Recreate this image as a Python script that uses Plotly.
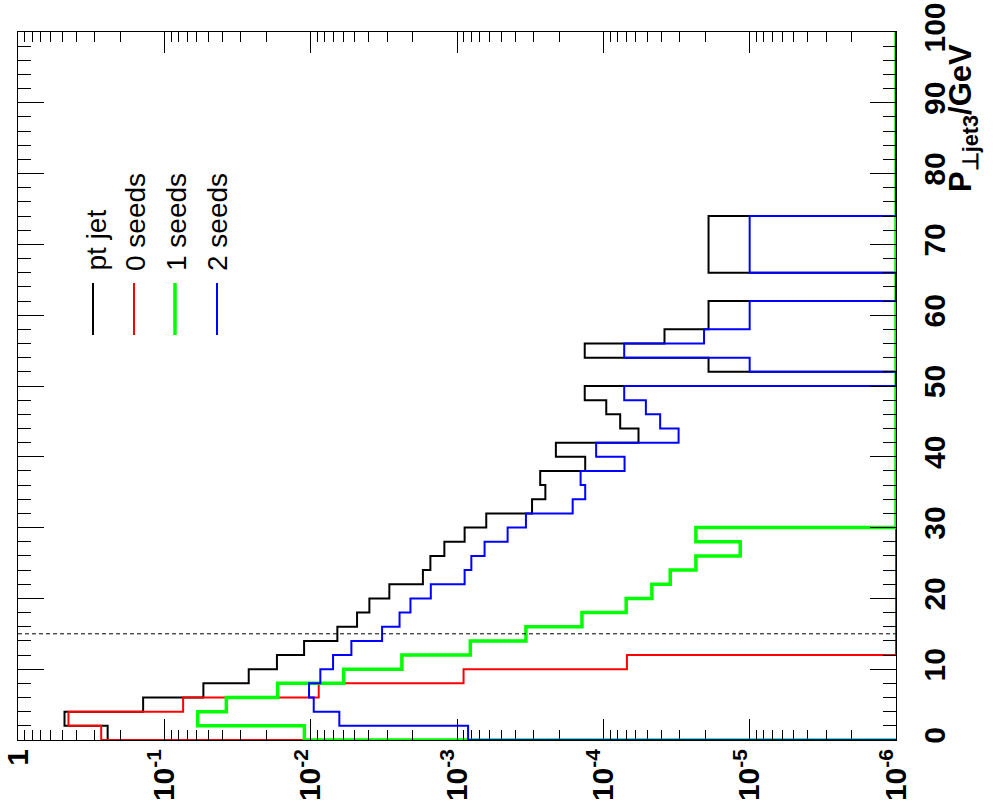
import plotly.graph_objects as go

# ---------------- data (bin contents, 2 GeV bins from 0 to 100 GeV) ----------------
bin_width = 2
pt_min, pt_max = 0, 100

pt_jet = [0.244, 0.481, 0.1396, 0.0541, 0.0265, 0.0170, 0.01109, 0.00657, 0.00482, 0.00397,
          0.00290, 0.00171, 0.00152, 0.00122, 8.87e-4, 6.31e-4, 3.07e-4, 2.49e-4, 2.70e-4, 1.33e-4,
          2.11e-4, 5.75e-5, 7.67e-5, 9.55e-5, 1.34e-4, 0, 1.91e-5, 1.34e-4, 3.82e-5, 1.91e-5,
          1.91e-5, 0, 0, 1.91e-5, 1.91e-5, 1.91e-5, 1.91e-5] + [0] * 13
seeds0 = [0.270, 0.452, 0.0744, 0.00881, 9.02e-4, 6.9e-5] + [0] * 44
seeds1 = [0.01104, 0.0591, 0.0377, 0.0168, 5.95e-3, 2.38e-3, 8.11e-4, 3.38e-4, 1.40e-4, 6.98e-5,
          4.66e-5, 3.49e-5, 2.33e-5, 1.16e-5, 2.33e-5] + [0] * 35
seeds2 = [8.4e-4, 6.37e-3, 9.53e-3, 0.01026, 8.59e-3, 7.03e-3, 5.27e-3, 3.25e-3, 2.47e-3, 2.08e-3,
          1.51e-3, 8.87e-4, 7.98e-4, 6.48e-4, 4.51e-4, 3.38e-4, 1.62e-4, 1.33e-4, 1.43e-4, 7.16e-5,
          1.12e-4, 3.06e-5, 4.09e-5, 5.12e-5, 7.2e-5, 0, 1.0e-5, 7.2e-5, 2.05e-5, 1.0e-5,
          1.0e-5, 0, 0, 1.0e-5, 1.0e-5, 1.0e-5, 1.0e-5] + [0] * 13

series_names = ["pt jet", "0 seeds", "1 seeds", "2 seeds"]
series_values = [pt_jet, seeds0, seeds1, seeds2]
cut_pt = 15

y_min_exp, y_max_exp = -6, 0
log_tickvals = [10.0 ** e for e in range(0, -7, -1)]
log_ticktext = ["1"] + ["10<sup>%d</sup>" % e for e in range(-1, -7, -1)]
pt_ticks = list(range(0, 101, 10))

# ---------------- style ----------------
colors = ["#000000", "#ff0000", "#00ff00", "#0000ff"]
widths = [2, 2, 3.5, 2]
FONT = "Liberation Sans, Arial, Helvetica, sans-serif"

W, H = 1001, 810
ML, MR, MT, MB = 18, 105, 32, 70
PW, PH = W - ML - MR, H - MT - MB


def px(x):
    return (x - ML) / PW


def py(y):
    return (H - MB - y) / PH


baseline = 10.0 ** y_min_exp


def step_path(vals):
    xs, ys = [baseline], [pt_min]
    for i, v in enumerate(vals):
        v = v if v > 0 else baseline
        lo = pt_min + i * bin_width
        xs += [v, v]
        ys += [lo, lo + bin_width]
    xs.append(baseline)
    ys.append(pt_max)
    return xs, ys


fig = go.Figure()
for name, vals, c, w in zip(series_names, series_values, colors, widths):
    xs, ys = step_path(vals)
    fig.add_trace(go.Scatter(x=xs, y=ys, mode="lines", name=name,
                             line=dict(color=c, width=w), cliponaxis=False,
                             showlegend=False, hoverinfo="skip"))

# dashed cut line
fig.add_shape(type="line", xref="paper", yref="y", x0=0, x1=1, y0=cut_pt, y1=cut_pt,
              line=dict(color="#000000", width=1, dash="4px,3px"), layer="above")

minor_log = [k * 10.0 ** (-d) for d in range(1, 7) for k in range(2, 10)]

fig.update_xaxes(type="log", range=[y_max_exp, y_min_exp], automargin=False,
                 tickmode="array", tickvals=log_tickvals, ticktext=log_ticktext,
                 ticks="inside", ticklen=21, tickwidth=1, tickcolor="#000000",
                 showline=True, linecolor="#000000", linewidth=1, mirror="allticks",
                 showgrid=False, zeroline=False, tickangle=-90,
                 tickfont=dict(family=FONT, size=30, color="#000000", weight="bold"),
                 ticklabelstandoff=-4,
                 minor=dict(tickmode="array", tickvals=minor_log, ticks="inside",
                            ticklen=10, tickwidth=1, tickcolor="#000000", showgrid=False))

fig.update_yaxes(range=[pt_min, pt_max], side="right", automargin=False,
                 tickmode="array", tickvals=pt_ticks, ticktext=[str(t) for t in pt_ticks],
                 ticks="inside", ticklen=26, tickwidth=1, tickcolor="#000000",
                 showline=True, linecolor="#000000", linewidth=1, mirror="allticks",
                 showgrid=False, zeroline=False, tickangle=-90,
                 tickfont=dict(family=FONT, size=30, color="#000000", weight="bold"),
                 ticklabelstandoff=12,
                 minor=dict(dtick=2, tick0=0, ticks="inside", ticklen=13, tickwidth=1,
                            tickcolor="#000000", showgrid=False))

# axis title (rotated, aligned at top like ROOT)
fig.add_annotation(text="P<sub>⊥jet3</sub>/GeV", xref="paper", yref="paper",
                   x=px(963), y=py(42), xanchor="center", yanchor="top",
                   textangle=-90, showarrow=False,
                   font=dict(family=FONT, size=31, color="#000000", weight="bold"))

# legend (rotated)
leg_text_x = [96, 135, 176, 217]
leg_line_x = [93, 134, 175, 217]
for name, c, w, tx, lx in zip(series_names, colors, widths, leg_text_x, leg_line_x):
    fig.add_annotation(text=name, xref="paper", yref="paper", x=px(tx), y=py(273),
                       xanchor="center", yanchor="bottom", textangle=-90, showarrow=False,
                       font=dict(family=FONT, size=28, color="#000000"))
    fig.add_shape(type="line", xref="paper", yref="paper", x0=px(lx), x1=px(lx),
                  y0=py(283), y1=py(335), line=dict(color=c, width=w))

fig.update_layout(width=W, height=H, margin=dict(l=ML, r=MR, t=MT, b=MB, autoexpand=False),
                  paper_bgcolor="white", plot_bgcolor="white", showlegend=False)

fig.write_html("out.html")
